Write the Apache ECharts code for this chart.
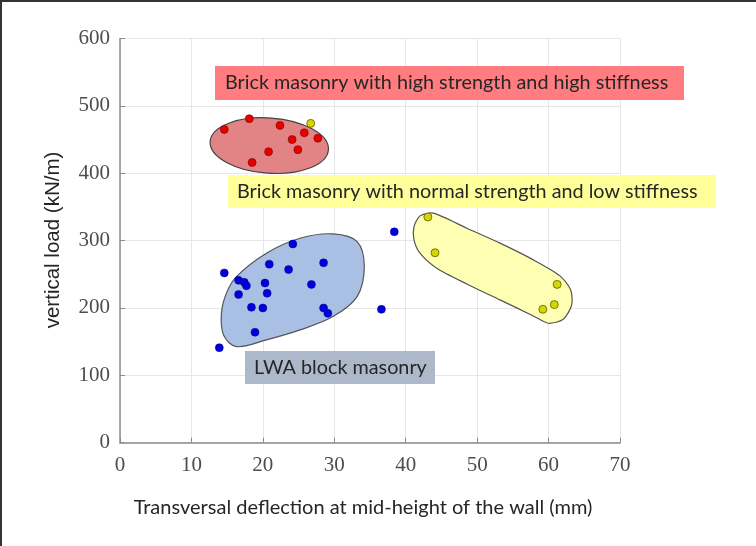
<!DOCTYPE html>
<html><head><meta charset="utf-8">
<script src="https://cdn.jsdelivr.net/npm/echarts@6/dist/echarts.min.js"></script>
<style>html,body{margin:0;padding:0;background:#fff}#c{width:756px;height:546px}</style>
</head><body><div id="c"></div>
<script>
// ---- data ----
var xTicks = [0, 10, 20, 30, 40, 50, 60, 70];
var yTicks = [0, 100, 200, 300, 400, 500, 600];
var redPoints = [[14.6,465],[18.1,481],[22.4,471],[25.8,460],[24.1,450],[27.7,452],[24.9,435],[20.8,432],[18.5,416]];
var bluePoints = [[38.4,313],[24.2,295],[14.6,252],[20.9,265],[23.6,257],[28.5,267],[16.6,241],[17.4,238],[17.7,233],[20.3,237],[26.8,235],[16.6,220],[20.6,222],[18.4,201],[20.0,200],[28.5,200],[29.1,192],[36.6,198],[18.9,164],[13.9,141]];
var yellowPoints = [[26.7,474],[43.1,335],[44.1,282],[61.2,235],[60.8,205],[59.2,198]];
// region outlines (data units)
var redRegion = {center:[20.9,441], radii:[8.3,41]};
var blueRegion = [[16.3,246.6],[20.5,281.3],[25.2,303.5],[29.8,310],[33.2,298.6],[34.2,261.4],[33.2,216.9],[29.8,187.2],[25.2,167.4],[20.5,152.6],[16.3,142.6],[14.5,160],[14.2,192.3],[14.9,222]];
var yellowRegion = [[43.87,340.7],[42.0,336.7],[41.16,320.8],[41.16,301.1],[42.0,281.3],[44.34,259.0],[48.54,235.7],[53.2,212.0],[57.87,188.2],[59.96,177.3],[62.06,183.3],[63.24,204.5],[63.1,226.8],[61.6,247.6],[57.87,271.4],[53.2,296.2],[48.54,318.4]];
var labels = ['Brick masonry with high strength and high stiffness','Brick masonry with normal strength and low stiffness','LWA block masonry'];
var xTitle = 'Transversal deflection at mid-height of the wall (mm)';
var yTitle = 'vertical load (kN/m)';

var chart = echarts.init(document.getElementById('c'));
function polyItem(pts, fill, sm){
  return function(params, api){
    var p = pts.map(function(d){return api.coord(d);});
    return {type:'polygon', shape:{points:p, smooth:sm}, style:{fill:fill, stroke:'#555', lineWidth:1.2}};
  };
}
var boxText = {fontFamily:'Lato', fontSize:19.8, fill:'#262626'};
var option = {
  animation:false,
  grid:{left:120, top:38.5, right:136, bottom:103.3},
  xAxis:{type:'value', min:0, max:70, interval:10,
    axisLine:{lineStyle:{color:'#8c8c8c', width:1.5}},
    axisTick:{inside:true, length:5, lineStyle:{color:'#8c8c8c'}},
    axisLabel:{fontFamily:'Liberation Serif', fontSize:21, color:'#4d4d4d', margin:12},
    splitLine:{show:true, lineStyle:{color:'#e6e6e6'}}},
  yAxis:{type:'value', min:0, max:600, interval:100,
    axisLine:{show:true, lineStyle:{color:'#8c8c8c', width:1.5}},
    axisTick:{show:true, inside:true, length:5, lineStyle:{color:'#8c8c8c'}},
    axisLabel:{fontFamily:'Liberation Serif', fontSize:21, color:'#4d4d4d', margin:10},
    splitLine:{show:true, lineStyle:{color:'#e6e6e6'}}},
  series:[
    {type:'custom', z:1, data:[0], renderItem:function(params, api){
      var c = api.coord(redRegion.center); var s = api.size(redRegion.radii);
      return {type:'ellipse', shape:{cx:0, cy:0, rx:s[0], ry:s[1]}, x:c[0], y:c[1], rotation:-0.07,
        style:{fill:'#e28486', stroke:'#444', lineWidth:1.2}};
    }},
    {type:'custom', z:1, data:[0], renderItem:polyItem(blueRegion,'#a9bfe3',0.35)},
    {type:'custom', z:1, data:[0], renderItem:polyItem(yellowRegion,'#ffffb3',0.25)},
    {type:'scatter', z:3, data:redPoints, symbolSize:8, itemStyle:{color:'#e60000', borderColor:'#7a0000', borderWidth:0.6, opacity:1}},
    {type:'scatter', z:3, data:bluePoints, symbolSize:8, itemStyle:{color:'#0000dd', borderColor:'#00008a', borderWidth:0.5, opacity:1}},
    {type:'scatter', z:3, data:yellowPoints, symbolSize:8, itemStyle:{color:'#d6d600', borderColor:'#5c5c00', borderWidth:0.8, opacity:1}}
  ],
  graphic:[
    {type:'rect', z:10, shape:{x:215, y:66, width:469, height:34}, style:{fill:'#ff7c80'}},
    {type:'text', z:11, x:225, y:83, style:Object.assign({text:labels[0], verticalAlign:'middle'}, boxText)},
    {type:'rect', z:10, shape:{x:228, y:175, width:488, height:33}, style:{fill:'#ffff99'}},
    {type:'text', z:11, x:237, y:191.5, style:Object.assign({text:labels[1], verticalAlign:'middle'}, boxText)},
    {type:'rect', z:10, shape:{x:245, y:351, width:190, height:33}, style:{fill:'#adb9ca'}},
    {type:'text', z:11, x:254, y:368, style:Object.assign({text:labels[2], verticalAlign:'middle'}, boxText)},
    {type:'text', x:363, y:508, style:{text:xTitle, align:'center', verticalAlign:'middle', fontFamily:'Lato', fontSize:20, fill:'#262626'}},
    {type:'text', x:53, y:240, rotation:Math.PI/2, style:{text:yTitle, align:'center', verticalAlign:'middle', fontFamily:'Liberation Sans', fontSize:20.5, fill:'#262626'}},
    {type:'rect', shape:{x:0, y:0, width:756, height:2}, style:{fill:'#333'}},
    {type:'rect', shape:{x:0, y:0, width:2, height:546}, style:{fill:'#333'}}
  ]
};
chart.setOption(option);
</script></body></html>
